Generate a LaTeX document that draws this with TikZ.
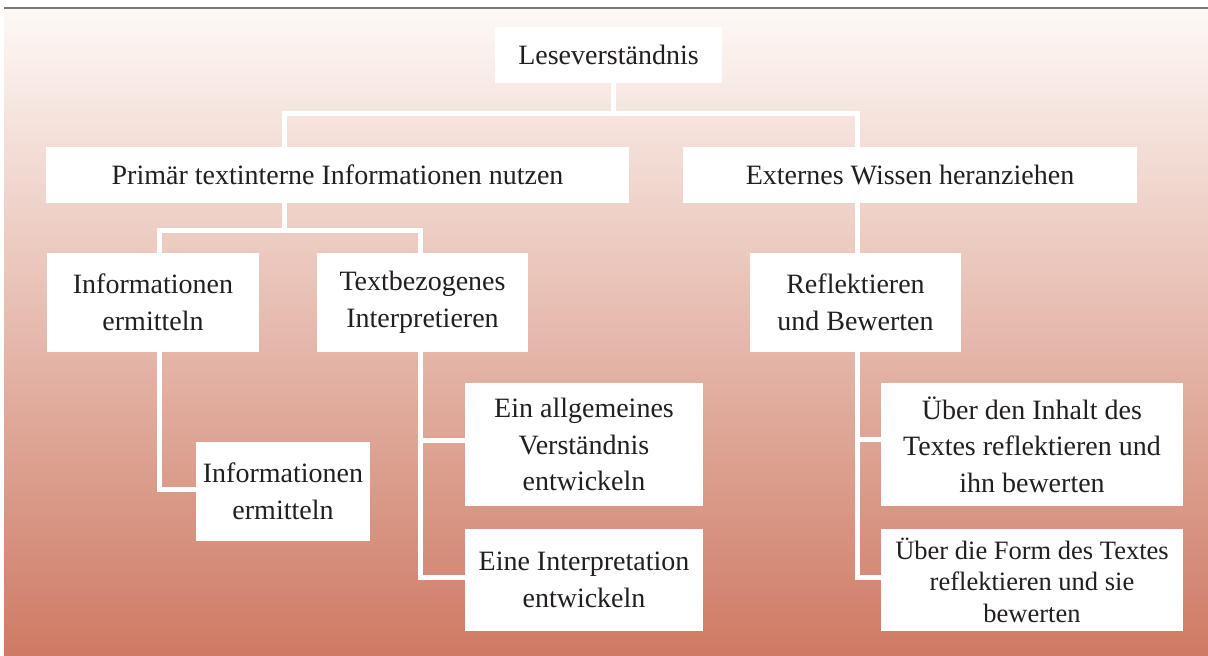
\documentclass[tikz,border=0pt]{standalone}
\usepackage{fontspec}
\setmainfont{Liberation Serif}
\definecolor{bgtop}{RGB}{253,249,246}
\definecolor{bgbot}{RGB}{206,122,100}
\definecolor{txt}{RGB}{35,31,32}
\definecolor{rule}{RGB}{120,120,120}
\begin{document}
\begin{tikzpicture}[x=1pt,y=-1pt,
  box/.style={rectangle, fill=white, inner sep=0pt, align=center, text=txt,
    font=\fontsize{28}{36.5}\selectfont},
  tightbox/.style={box, font=\fontsize{26.5}{31.5}\selectfont},
  conn/.style={draw=white, line width=5pt, line join=miter}]
\useasboundingbox (0,0) rectangle (1208,656);
\shade[top color=bgtop, bottom color=bgbot, middle color=bgtop!50!bgbot] (4,8.7) rectangle (1208,656);
\draw[rule, line width=2pt] (4,7.7) -- (1208,7.7);
% boxes
\node[box, minimum width=227pt, minimum height=56pt] (lese) at (608.5,55) {Leseverständnis};
\node[box, minimum width=583pt, minimum height=56pt] (prim) at (337.5,175) {Primär textinterne Informationen nutzen};
\node[box, minimum width=454pt, minimum height=56pt] (ext) at (910,175) {Externes Wissen heranziehen};
\node[box, minimum width=212pt, minimum height=99pt] (info1) at (153,302.5) {Informationen\\ermitteln};
\node[box, minimum width=211pt, minimum height=99pt] (text) at (422.5,302.5) {Textbezogenes\\Interpretieren};
\node[box, minimum width=211pt, minimum height=99pt] (refl) at (855.5,302.5) {Reflektieren\\und Bewerten};
\node[box, minimum width=174pt, minimum height=99pt] (info2) at (283,491.5) {Informationen\\ermitteln};
\node[box, minimum width=238pt, minimum height=123pt] (ein) at (584,444.5) {Ein allgemeines\\Verständnis\\entwickeln};
\node[box, minimum width=238pt, minimum height=102pt] (eine) at (584,580) {Eine Interpretation\\entwickeln};
\node[box, minimum width=302pt, minimum height=123pt] (inh) at (1032,444.5) {Über den Inhalt des\\Textes reflektieren und\\ihn bewerten};
\node[tightbox, minimum width=302pt, minimum height=102pt] (form) at (1032,580) {Über die Form des Textes\\reflektieren und sie\\bewerten};
% junction coordinates
\coordinate (t0) at (613,113.5);
\coordinate (b1l) at (284,113.5);
\coordinate (b1r) at (857.5,113.5);
\coordinate (b2) at (284,230.5);
\coordinate (b2l) at (159.5,230.5);
\coordinate (b2r) at (420,230.5);
\coordinate (j1) at (159.5,489.5);
\coordinate (c1) at (420,440);
\coordinate (c2) at (420,577);
\coordinate (r1) at (857.5,439);
\coordinate (r2) at (857.5,577.5);
% connectors
\draw[conn] (t0 |- lese.south) -- (t0);
\draw[conn] (b1l |- prim.north) -- (b1l) -- (b1r) -- (b1r |- ext.north);
\draw[conn] (b1r |- ext.south) -- (b1r |- refl.north);
\draw[conn] (b2 |- prim.south) -- (b2);
\draw[conn] (b2l |- info1.north) -- (b2l) -- (b2r) -- (b2r |- text.north);
\draw[conn] (b2l |- info1.south) -- (j1) -- (j1 -| info2.west);
\draw[conn] (c1 |- text.south) -- (c2) -- (c2 -| eine.west);
\draw[conn] (c1) -- (c1 -| ein.west);
\draw[conn] (r1 |- refl.south) -- (r2) -- (r2 -| form.west);
\draw[conn] (r1) -- (r1 -| inh.west);
\end{tikzpicture}
\end{document}
